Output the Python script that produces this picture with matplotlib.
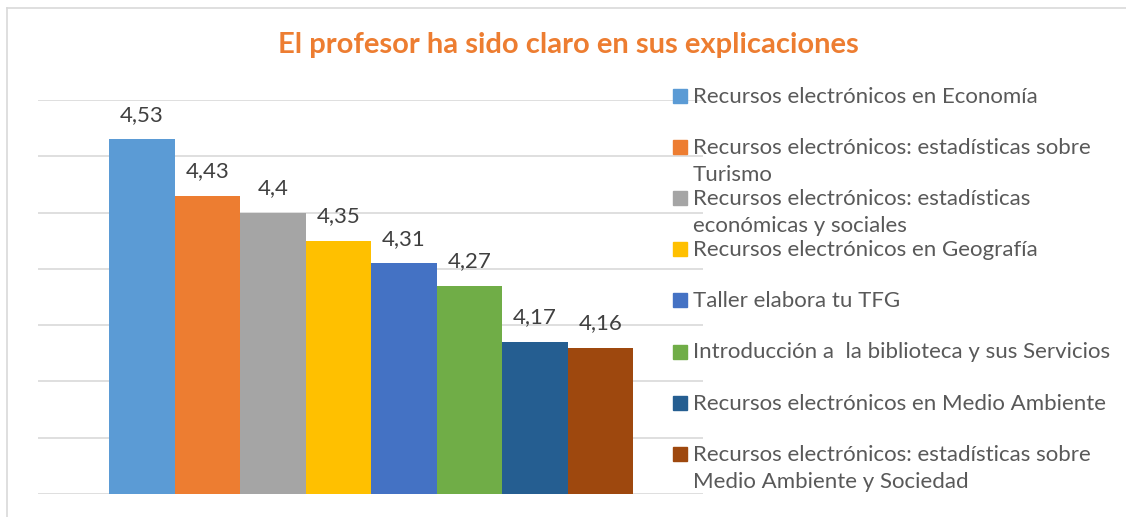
import matplotlib.pyplot as plt
from matplotlib.lines import Line2D
from matplotlib.patches import Rectangle
import numpy as np

plt.rcParams['font.family'] = ['Lato', 'DejaVu Sans']

# datos
cursos = ["Recursos electrónicos en Economía",
          "Recursos electrónicos: estadísticas sobre\nTurismo",
          "Recursos electrónicos: estadísticas\neconómicas y sociales",
          "Recursos electrónicos en Geografía",
          "Taller elabora tu TFG",
          "Introducción a  la biblioteca y sus Servicios",
          "Recursos electrónicos en Medio Ambiente",
          "Recursos electrónicos: estadísticas sobre\nMedio Ambiente y Sociedad"]
valores = [4.53, 4.43, 4.4, 4.35, 4.31, 4.27, 4.17, 4.16]
etiquetas = ["4,53", "4,43", "4,4", "4,35", "4,31", "4,27", "4,17", "4,16"]
colores = ["#5B9BD5", "#ED7D31", "#A5A5A5", "#FFC000",
           "#4472C4", "#70AD47", "#255E91", "#9E480E"]

W, H = 1126, 517
fig = plt.figure(figsize=(W / 100, H / 100), dpi=100)

# borde del grafico (solo arriba e izquierda visibles)
fig.add_artist(Line2D([7.5 / W, 1], [1 - 7.5 / H, 1 - 7.5 / H],
                      color="#D9D9D9", lw=1.2, transform=fig.transFigure))
fig.add_artist(Line2D([7.5 / W, 7.5 / W], [0, 1 - 7.5 / H],
                      color="#D9D9D9", lw=1.2, transform=fig.transFigure))

ax = fig.add_axes([38 / W, (H - 494) / H, 665 / W, 394 / H])
x = np.arange(len(valores))
ax.bar(x, valores, width=1.0, color=colores, zorder=2)
for xi, v, t in zip(x, valores, etiquetas):
    ax.annotate(t, (xi, v), xytext=(0, 10.5), textcoords="offset points",
                ha="center", va="bottom", fontsize=16, color="#404040")

ax.set_ylim(3.9, 4.6)
ax.set_xlim(-1.584, 8.568)
ax.set_yticks(np.arange(3.9, 4.61, 0.1))
ax.yaxis.grid(True, color="#D9D9D9", lw=1.2, zorder=0)
ax.tick_params(left=False, bottom=False, labelleft=False, labelbottom=False)
for s in ax.spines.values():
    s.set_visible(False)

fig.text(568 / W, 1 - 45 / H, "El profesor ha sido claro en sus explicaciones",
         ha="center", va="center", fontsize=21, fontweight="bold", color="#ED7D31")

# leyenda manual
y0 = 96
for i in range(len(cursos)):
    yc = y0 + i * 51.1
    fig.add_artist(Rectangle((673 / W, 1 - (yc + 7) / H), 14 / W, 14 / H,
                             color=colores[i], transform=fig.transFigure))
    fig.text(693 / W, 1 - (yc - 9) / H, cursos[i], ha="left", va="top",
             fontsize=16, color="#595959", linespacing=1.45)

fig.savefig("out.png", dpi=100)
